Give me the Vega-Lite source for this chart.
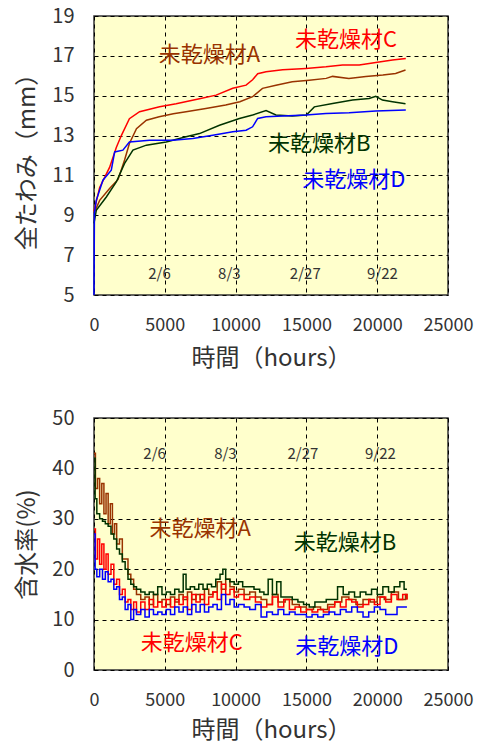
{
  "$schema": "https://vega.github.io/schema/vega-lite/v6.json",
  "padding": {"left": 15, "top": 5, "right": 5, "bottom": 2},
  "spacing": 36,
  "config": {
    "view": {"fill": "#FFFFCC", "stroke": "#333333", "strokeWidth": 1.5},
    "axis": {"grid": true, "gridColor": "#000000", "gridDash": [4, 4], "gridWidth": 1, "gridOpacity": 1, "domain": false, "ticks": false,
      "labelFont": "Noto Sans CJK JP", "labelColor": "#333333", "titleFont": "Noto Sans CJK JP", "titleFontWeight": "normal", "titleColor": "#333333",
      "labelFlush": false, "labelOverlap": false, "labelBound": false, "tickCount": 12},
    "text": {"font": "Noto Sans CJK JP"}
  },
  "datasets": {
    "defl": [
      {"h":0,"v":9.1,"s":"A"},{"h":400,"v":9.75,"s":"A"},{"h":1100,"v":10.34,"s":"A"},{"h":1700,"v":10.8,"s":"A"},{"h":2160,"v":11.77,"s":"A"},{"h":2500,"v":12.6,"s":"A"},{"h":3000,"v":13.35,"s":"A"},{"h":3700,"v":13.77,"s":"A"},{"h":4600,"v":13.94,"s":"A"},{"h":5600,"v":14.1,"s":"A"},{"h":6500,"v":14.2,"s":"A"},{"h":7900,"v":14.36,"s":"A"},{"h":9300,"v":14.53,"s":"A"},{"h":10300,"v":14.7,"s":"A"},{"h":11200,"v":14.95,"s":"A"},{"h":11900,"v":15.37,"s":"A"},{"h":12850,"v":15.53,"s":"A"},{"h":14000,"v":15.7,"s":"A"},{"h":15200,"v":15.78,"s":"A"},{"h":16400,"v":15.87,"s":"A"},{"h":16850,"v":15.97,"s":"A"},{"h":18000,"v":15.87,"s":"A"},{"h":19200,"v":15.97,"s":"A"},{"h":20400,"v":16.04,"s":"A"},{"h":21300,"v":16.12,"s":"A"},{"h":22000,"v":16.29,"s":"A"},
      {"h":0,"v":8.6,"s":"B"},{"h":160,"v":9.25,"s":"B"},{"h":870,"v":9.92,"s":"B"},{"h":1575,"v":10.67,"s":"B"},{"h":2160,"v":11.6,"s":"B"},{"h":2750,"v":12.27,"s":"B"},{"h":3700,"v":12.52,"s":"B"},{"h":5100,"v":12.68,"s":"B"},{"h":6500,"v":12.94,"s":"B"},{"h":7450,"v":13.1,"s":"B"},{"h":8860,"v":13.52,"s":"B"},{"h":10270,"v":13.86,"s":"B"},{"h":11200,"v":14.03,"s":"B"},{"h":12150,"v":14.25,"s":"B"},{"h":12850,"v":14.03,"s":"B"},{"h":14000,"v":13.98,"s":"B"},{"h":15000,"v":14.03,"s":"B"},{"h":15560,"v":14.44,"s":"B"},{"h":16850,"v":14.61,"s":"B"},{"h":18260,"v":14.78,"s":"B"},{"h":19430,"v":14.86,"s":"B"},{"h":19900,"v":14.97,"s":"B"},{"h":20370,"v":14.78,"s":"B"},{"h":21080,"v":14.7,"s":"B"},{"h":22000,"v":14.6,"s":"B"},
      {"h":0,"v":9.2,"s":"C"},{"h":400,"v":10.4,"s":"C"},{"h":1100,"v":11.4,"s":"C"},{"h":1575,"v":12.4,"s":"C"},{"h":1930,"v":13.0,"s":"C"},{"h":2500,"v":13.85,"s":"C"},{"h":3220,"v":14.2,"s":"C"},{"h":4630,"v":14.45,"s":"C"},{"h":5800,"v":14.6,"s":"C"},{"h":7450,"v":14.85,"s":"C"},{"h":8625,"v":15.03,"s":"C"},{"h":9800,"v":15.37,"s":"C"},{"h":10740,"v":15.53,"s":"C"},{"h":11200,"v":15.8,"s":"C"},{"h":11560,"v":16.1,"s":"C"},{"h":12150,"v":16.2,"s":"C"},{"h":13320,"v":16.3,"s":"C"},{"h":14970,"v":16.37,"s":"C"},{"h":16380,"v":16.45,"s":"C"},{"h":17550,"v":16.54,"s":"C"},{"h":18730,"v":16.54,"s":"C"},{"h":19900,"v":16.67,"s":"C"},{"h":21080,"v":16.79,"s":"C"},{"h":22020,"v":16.87,"s":"C"},
      {"h":0,"v":5.0,"s":"D"},{"h":30,"v":9.1,"s":"D"},{"h":160,"v":9.75,"s":"D"},{"h":630,"v":10.76,"s":"D"},{"h":1220,"v":11.26,"s":"D"},{"h":1460,"v":12.18,"s":"D"},{"h":2040,"v":12.27,"s":"D"},{"h":2500,"v":12.68,"s":"D"},{"h":3920,"v":12.77,"s":"D"},{"h":5570,"v":12.77,"s":"D"},{"h":6980,"v":12.85,"s":"D"},{"h":8390,"v":13.02,"s":"D"},{"h":9800,"v":13.19,"s":"D"},{"h":10740,"v":13.27,"s":"D"},{"h":11200,"v":13.44,"s":"D"},{"h":11560,"v":13.86,"s":"D"},{"h":12150,"v":13.94,"s":"D"},{"h":13320,"v":13.98,"s":"D"},{"h":14970,"v":14.03,"s":"D"},{"h":16380,"v":14.11,"s":"D"},{"h":18020,"v":14.14,"s":"D"},{"h":19900,"v":14.23,"s":"D"},{"h":22020,"v":14.28,"s":"D"}
    ],
    "moist": [
      {"h":0,"v":43,"s":"A"},{"h":100,"v":36,"s":"A"},{"h":250,"v":38,"s":"A"},{"h":400,"v":33,"s":"A"},{"h":550,"v":37,"s":"A"},{"h":700,"v":31,"s":"A"},{"h":850,"v":35,"s":"A"},{"h":1000,"v":29,"s":"A"},{"h":1150,"v":33,"s":"A"},{"h":1300,"v":27,"s":"A"},{"h":1450,"v":29,"s":"A"},{"h":1600,"v":25,"s":"A"},{"h":1800,"v":26,"s":"A"},{"h":2000,"v":22,"s":"A"},{"h":2200,"v":22,"s":"A"},{"h":2400,"v":19,"s":"A"},{"h":2600,"v":18,"s":"A"},{"h":2800,"v":16,"s":"A"},{"h":3000,"v":15,"s":"A"},{"h":3300,"v":14,"s":"A"},{"h":3600,"v":14.5,"s":"A"},{"h":3900,"v":13,"s":"A"},{"h":4200,"v":15,"s":"A"},{"h":4500,"v":13.5,"s":"A"},{"h":4800,"v":14,"s":"A"},{"h":5100,"v":13,"s":"A"},{"h":5400,"v":14.5,"s":"A"},{"h":5700,"v":13.5,"s":"A"},{"h":6000,"v":15,"s":"A"},{"h":6300,"v":14,"s":"A"},{"h":6600,"v":15.5,"s":"A"},{"h":6900,"v":14,"s":"A"},{"h":7200,"v":15,"s":"A"},{"h":7500,"v":14,"s":"A"},{"h":7800,"v":16,"s":"A"},{"h":8100,"v":15,"s":"A"},{"h":8400,"v":15.5,"s":"A"},{"h":8700,"v":17.5,"s":"A"},{"h":9000,"v":16,"s":"A"},{"h":9300,"v":18,"s":"A"},{"h":9600,"v":16.5,"s":"A"},{"h":9900,"v":15.5,"s":"A"},{"h":10200,"v":16,"s":"A"},{"h":10600,"v":15,"s":"A"},{"h":11000,"v":15.5,"s":"A"},{"h":11400,"v":14.5,"s":"A"},{"h":11800,"v":14,"s":"A"},{"h":12200,"v":13,"s":"A"},{"h":12600,"v":15,"s":"A"},{"h":13000,"v":13.5,"s":"A"},{"h":13500,"v":14,"s":"A"},{"h":14000,"v":13,"s":"A"},{"h":14500,"v":12.5,"s":"A"},{"h":15000,"v":12,"s":"A"},{"h":15500,"v":12.5,"s":"A"},{"h":16000,"v":12,"s":"A"},{"h":16500,"v":13,"s":"A"},{"h":17000,"v":13.5,"s":"A"},{"h":17500,"v":14.5,"s":"A"},{"h":18000,"v":14,"s":"A"},{"h":18500,"v":13,"s":"A"},{"h":19000,"v":14,"s":"A"},{"h":19500,"v":13.5,"s":"A"},{"h":20000,"v":14.5,"s":"A"},{"h":20500,"v":14,"s":"A"},{"h":21000,"v":15.5,"s":"A"},{"h":21500,"v":14,"s":"A"},{"h":22000,"v":15,"s":"A"},{"h":22100,"v":14,"s":"A"},
      {"h":0,"v":42,"s":"B"},{"h":80,"v":34,"s":"B"},{"h":200,"v":31,"s":"B"},{"h":400,"v":30,"s":"B"},{"h":600,"v":29.5,"s":"B"},{"h":800,"v":29,"s":"B"},{"h":1000,"v":28.5,"s":"B"},{"h":1200,"v":27,"s":"B"},{"h":1400,"v":26,"s":"B"},{"h":1600,"v":24,"s":"B"},{"h":1800,"v":23,"s":"B"},{"h":2000,"v":21.5,"s":"B"},{"h":2200,"v":20,"s":"B"},{"h":2400,"v":18,"s":"B"},{"h":2600,"v":17,"s":"B"},{"h":2800,"v":16.5,"s":"B"},{"h":3000,"v":16,"s":"B"},{"h":3300,"v":15.5,"s":"B"},{"h":3600,"v":15,"s":"B"},{"h":3900,"v":15.5,"s":"B"},{"h":4200,"v":15,"s":"B"},{"h":4500,"v":16.5,"s":"B"},{"h":4800,"v":15,"s":"B"},{"h":5100,"v":15.5,"s":"B"},{"h":5400,"v":15,"s":"B"},{"h":5700,"v":16,"s":"B"},{"h":6000,"v":15.5,"s":"B"},{"h":6300,"v":19,"s":"B"},{"h":6500,"v":16,"s":"B"},{"h":6800,"v":16.5,"s":"B"},{"h":7100,"v":16,"s":"B"},{"h":7400,"v":17,"s":"B"},{"h":7700,"v":16,"s":"B"},{"h":8000,"v":17,"s":"B"},{"h":8300,"v":16.5,"s":"B"},{"h":8600,"v":18,"s":"B"},{"h":8900,"v":19,"s":"B"},{"h":9100,"v":20,"s":"B"},{"h":9300,"v":18,"s":"B"},{"h":9600,"v":17.5,"s":"B"},{"h":9900,"v":17,"s":"B"},{"h":10200,"v":17.5,"s":"B"},{"h":10500,"v":16.5,"s":"B"},{"h":10900,"v":16.5,"s":"B"},{"h":11300,"v":16,"s":"B"},{"h":11700,"v":15.5,"s":"B"},{"h":12000,"v":15,"s":"B"},{"h":12300,"v":18,"s":"B"},{"h":12600,"v":15,"s":"B"},{"h":12900,"v":17.5,"s":"B"},{"h":13200,"v":14.5,"s":"B"},{"h":13600,"v":14.5,"s":"B"},{"h":14000,"v":14,"s":"B"},{"h":14400,"v":13.5,"s":"B"},{"h":14800,"v":13,"s":"B"},{"h":15200,"v":12.5,"s":"B"},{"h":15600,"v":13.5,"s":"B"},{"h":16000,"v":13.5,"s":"B"},{"h":16400,"v":14,"s":"B"},{"h":16800,"v":14,"s":"B"},{"h":17200,"v":16.5,"s":"B"},{"h":17600,"v":15,"s":"B"},{"h":18000,"v":15.5,"s":"B"},{"h":18400,"v":14.5,"s":"B"},{"h":18800,"v":15.5,"s":"B"},{"h":19200,"v":15,"s":"B"},{"h":19600,"v":16,"s":"B"},{"h":20000,"v":15,"s":"B"},{"h":20400,"v":16.5,"s":"B"},{"h":20800,"v":15.5,"s":"B"},{"h":21200,"v":16.5,"s":"B"},{"h":21600,"v":17.5,"s":"B"},{"h":21900,"v":16,"s":"B"},{"h":22100,"v":16,"s":"B"},
      {"h":0,"v":28,"s":"C"},{"h":100,"v":22,"s":"C"},{"h":250,"v":26,"s":"C"},{"h":400,"v":21,"s":"C"},{"h":550,"v":25,"s":"C"},{"h":700,"v":20,"s":"C"},{"h":850,"v":23,"s":"C"},{"h":1000,"v":19,"s":"C"},{"h":1200,"v":21,"s":"C"},{"h":1400,"v":17,"s":"C"},{"h":1600,"v":18,"s":"C"},{"h":1800,"v":15,"s":"C"},{"h":2000,"v":16,"s":"C"},{"h":2200,"v":13.5,"s":"C"},{"h":2400,"v":14,"s":"C"},{"h":2600,"v":12,"s":"C"},{"h":2800,"v":13.5,"s":"C"},{"h":3000,"v":11.5,"s":"C"},{"h":3300,"v":13.5,"s":"C"},{"h":3600,"v":12,"s":"C"},{"h":3900,"v":14,"s":"C"},{"h":4200,"v":12.5,"s":"C"},{"h":4500,"v":13.5,"s":"C"},{"h":4800,"v":12.5,"s":"C"},{"h":5100,"v":14,"s":"C"},{"h":5400,"v":12.5,"s":"C"},{"h":5700,"v":14,"s":"C"},{"h":6000,"v":13,"s":"C"},{"h":6300,"v":14.5,"s":"C"},{"h":6600,"v":12,"s":"C"},{"h":6900,"v":15,"s":"C"},{"h":7200,"v":13.5,"s":"C"},{"h":7500,"v":15,"s":"C"},{"h":7800,"v":13,"s":"C"},{"h":8100,"v":14.5,"s":"C"},{"h":8400,"v":15.5,"s":"C"},{"h":8700,"v":14,"s":"C"},{"h":9000,"v":17,"s":"C"},{"h":9300,"v":15,"s":"C"},{"h":9600,"v":16,"s":"C"},{"h":9900,"v":14.5,"s":"C"},{"h":10200,"v":15,"s":"C"},{"h":10600,"v":14,"s":"C"},{"h":11000,"v":14.5,"s":"C"},{"h":11400,"v":13.5,"s":"C"},{"h":11800,"v":12.5,"s":"C"},{"h":12200,"v":13,"s":"C"},{"h":12600,"v":14.5,"s":"C"},{"h":13000,"v":12.5,"s":"C"},{"h":13400,"v":14,"s":"C"},{"h":13800,"v":12,"s":"C"},{"h":14200,"v":12.5,"s":"C"},{"h":14600,"v":11.5,"s":"C"},{"h":15000,"v":12,"s":"C"},{"h":15400,"v":11.5,"s":"C"},{"h":15800,"v":12,"s":"C"},{"h":16200,"v":11.5,"s":"C"},{"h":16600,"v":12.5,"s":"C"},{"h":17000,"v":13.5,"s":"C"},{"h":17400,"v":12.5,"s":"C"},{"h":17800,"v":14,"s":"C"},{"h":18200,"v":13.5,"s":"C"},{"h":18600,"v":12.5,"s":"C"},{"h":19000,"v":13,"s":"C"},{"h":19400,"v":14,"s":"C"},{"h":19800,"v":13,"s":"C"},{"h":20200,"v":14.5,"s":"C"},{"h":20600,"v":13.5,"s":"C"},{"h":21000,"v":15,"s":"C"},{"h":21400,"v":14,"s":"C"},{"h":21800,"v":15,"s":"C"},{"h":22100,"v":14,"s":"C"},
      {"h":0,"v":27,"s":"D"},{"h":80,"v":20,"s":"D"},{"h":200,"v":18.5,"s":"D"},{"h":400,"v":20,"s":"D"},{"h":600,"v":18,"s":"D"},{"h":800,"v":19.5,"s":"D"},{"h":1000,"v":17.5,"s":"D"},{"h":1200,"v":18,"s":"D"},{"h":1400,"v":16,"s":"D"},{"h":1600,"v":16.5,"s":"D"},{"h":1800,"v":14,"s":"D"},{"h":2000,"v":14.5,"s":"D"},{"h":2200,"v":12,"s":"D"},{"h":2400,"v":13,"s":"D"},{"h":2600,"v":10,"s":"D"},{"h":2800,"v":12,"s":"D"},{"h":3000,"v":11,"s":"D"},{"h":3300,"v":12,"s":"D"},{"h":3600,"v":10.5,"s":"D"},{"h":3900,"v":12,"s":"D"},{"h":4200,"v":11,"s":"D"},{"h":4500,"v":11.5,"s":"D"},{"h":4800,"v":11,"s":"D"},{"h":5100,"v":12,"s":"D"},{"h":5400,"v":11,"s":"D"},{"h":5700,"v":12.5,"s":"D"},{"h":6000,"v":11.5,"s":"D"},{"h":6300,"v":12.5,"s":"D"},{"h":6600,"v":11,"s":"D"},{"h":6900,"v":13,"s":"D"},{"h":7200,"v":11.5,"s":"D"},{"h":7500,"v":13,"s":"D"},{"h":7800,"v":11.5,"s":"D"},{"h":8100,"v":12.5,"s":"D"},{"h":8400,"v":13,"s":"D"},{"h":8700,"v":12,"s":"D"},{"h":9000,"v":15,"s":"D"},{"h":9300,"v":13,"s":"D"},{"h":9600,"v":14,"s":"D"},{"h":9900,"v":12.5,"s":"D"},{"h":10200,"v":13,"s":"D"},{"h":10600,"v":12.5,"s":"D"},{"h":11000,"v":12,"s":"D"},{"h":11400,"v":13,"s":"D"},{"h":11800,"v":10.5,"s":"D"},{"h":12200,"v":11.5,"s":"D"},{"h":12600,"v":11,"s":"D"},{"h":13000,"v":12,"s":"D"},{"h":13400,"v":11,"s":"D"},{"h":13800,"v":11.5,"s":"D"},{"h":14200,"v":11,"s":"D"},{"h":14600,"v":11,"s":"D"},{"h":15000,"v":10.5,"s":"D"},{"h":15400,"v":11,"s":"D"},{"h":15800,"v":10.5,"s":"D"},{"h":16200,"v":11,"s":"D"},{"h":16600,"v":11.5,"s":"D"},{"h":17000,"v":11,"s":"D"},{"h":17400,"v":12,"s":"D"},{"h":17800,"v":11.5,"s":"D"},{"h":18200,"v":12.5,"s":"D"},{"h":18600,"v":11.5,"s":"D"},{"h":19000,"v":10.5,"s":"D"},{"h":19400,"v":11.5,"s":"D"},{"h":19800,"v":12.5,"s":"D"},{"h":20200,"v":12,"s":"D"},{"h":20600,"v":11,"s":"D"},{"h":21000,"v":11,"s":"D"},{"h":21400,"v":12.5,"s":"D"},{"h":21800,"v":12.5,"s":"D"},{"h":22100,"v":12.5,"s":"D"}
    ],
    "lblTop": [
      {"h":8150,"v":17.04,"s":"A","t":"未乾燥材A"},
      {"h":15900,"v":12.6,"s":"B","t":"未乾燥材B"},
      {"h":17800,"v":17.8,"s":"C","t":"未乾燥材C"},
      {"h":18350,"v":10.76,"s":"D","t":"未乾燥材D"}
    ],
    "dateTop": [
      {"h":4630,"v":6.07,"t":"2/6"},{"h":9560,"v":6.07,"t":"8/3"},{"h":14920,"v":6.07,"t":"2/27"},{"h":20370,"v":6.07,"t":"9/22"}
    ],
    "lblBot": [
      {"h":7500,"v":27.9,"s":"A","t":"未乾燥材A"},
      {"h":17730,"v":25.1,"s":"B","t":"未乾燥材B"},
      {"h":6900,"v":5.3,"s":"C","t":"未乾燥材C"},
      {"h":17850,"v":4.5,"s":"D","t":"未乾燥材D"}
    ],
    "dateBot": [
      {"h":4280,"v":42.9,"t":"2/6"},{"h":9280,"v":42.9,"t":"8/3"},{"h":14750,"v":42.9,"t":"2/27"},{"h":20230,"v":42.9,"t":"9/22"}
    ]
  },
  "vconcat": [
    {
      "width": 354,
      "height": 279,
      "layer": [
        {
          "data": {"name": "defl"},
          "mark": {"type": "line", "strokeWidth": 1.5},
          "encoding": {
            "x": {"field": "h", "type": "quantitative", "scale": {"domain": [0, 25000], "nice": false},
              "axis": {"values": [0, 5000, 10000, 15000, 20000, 25000], "tickCount": 12, "format": "d", "title": "時間（hours）", "labelFontSize": 18, "titleFontSize": 24, "labelPadding": 21, "titlePadding": 12, "labelOverlap": false}},
            "y": {"field": "v", "type": "quantitative", "scale": {"domain": [5, 19], "nice": false, "zero": false},
              "axis": {"values": [5, 7, 9, 11, 13, 15, 17, 19], "tickCount": 12, "title": "全たわみ（mm）", "labelFontSize": 20, "titleFontSize": 24, "labelPadding": 20, "titlePadding": 12, "labelOverlap": false}},
            "color": {"field": "s", "type": "nominal", "scale": {"domain": ["A", "B", "C", "D"], "range": ["#993300", "#003300", "#FF0000", "#0000FF"]}, "legend": null}
          }
        },
        {
          "data": {"name": "lblTop"},
          "mark": {"type": "text", "fontSize": 22, "align": "center", "baseline": "middle"},
          "encoding": {
            "x": {"field": "h", "type": "quantitative"},
            "y": {"field": "v", "type": "quantitative"},
            "text": {"field": "t"},
            "color": {"field": "s", "type": "nominal", "legend": null}
          }
        },
        {
          "data": {"name": "dateTop"},
          "mark": {"type": "text", "fontSize": 15, "color": "#333333", "align": "center", "baseline": "middle"},
          "encoding": {
            "x": {"field": "h", "type": "quantitative"},
            "y": {"field": "v", "type": "quantitative"},
            "text": {"field": "t"}
          }
        }
      ]
    },
    {
      "width": 354,
      "height": 252,
      "layer": [
        {
          "data": {"name": "moist"},
          "mark": {"type": "line", "strokeWidth": 1.5, "interpolate": "step-after"},
          "encoding": {
            "x": {"field": "h", "type": "quantitative", "scale": {"domain": [0, 25000], "nice": false},
              "axis": {"values": [0, 5000, 10000, 15000, 20000, 25000], "tickCount": 12, "format": "d", "title": "時間（hours）", "labelFontSize": 18, "titleFontSize": 24, "labelPadding": 21, "titlePadding": 9, "labelOverlap": false}},
            "y": {"field": "v", "type": "quantitative", "scale": {"domain": [0, 50], "nice": false},
              "axis": {"values": [0, 10, 20, 30, 40, 50], "tickCount": 12, "title": "含水率(%)", "labelFontSize": 20, "titleFontSize": 24, "labelPadding": 20, "titlePadding": 12, "labelOverlap": false}},
            "color": {"field": "s", "type": "nominal", "scale": {"domain": ["A", "B", "C", "D"], "range": ["#993300", "#003300", "#FF0000", "#0000FF"]}, "legend": null}
          }
        },
        {
          "data": {"name": "lblBot"},
          "mark": {"type": "text", "fontSize": 22, "align": "center", "baseline": "middle"},
          "encoding": {
            "x": {"field": "h", "type": "quantitative"},
            "y": {"field": "v", "type": "quantitative"},
            "text": {"field": "t"},
            "color": {"field": "s", "type": "nominal", "legend": null}
          }
        },
        {
          "data": {"name": "dateBot"},
          "mark": {"type": "text", "fontSize": 15, "color": "#333333", "align": "center", "baseline": "middle"},
          "encoding": {
            "x": {"field": "h", "type": "quantitative"},
            "y": {"field": "v", "type": "quantitative"},
            "text": {"field": "t"}
          }
        }
      ]
    }
  ]
}
